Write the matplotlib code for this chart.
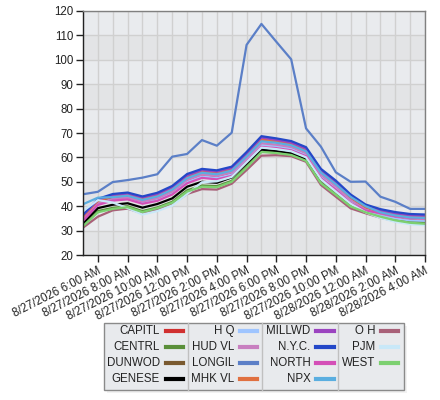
import matplotlib
matplotlib.use("Agg")
import matplotlib.pyplot as plt
import matplotlib.dates as mdates
from matplotlib.patches import Rectangle
from matplotlib.lines import Line2D
import pandas as pd

plt.rcParams['font.family'] = ['Liberation Sans', 'DejaVu Sans']

# hourly timestamps, 8/27/2026 5 AM .. 8/28/2026 4 AM
hours = pd.date_range("2026-08-27 05:00", periods=24, freq="h")

zones = ["CAPITL", "CENTRL", "DUNWOD", "GENESE", "H Q", "HUD VL", "LONGIL", "MHK VL",
         "MILLWD", "N.Y.C.", "NORTH", "NPX", "O H", "PJM", "WEST"]
colors = ["#d03030", "#5a8f3a", "#7a5a30", "#000000", "#9fc5ff", "#c87fc0", "#5b7fc7", "#e07040",
          "#9b44c0", "#2448c8", "#d44fb7", "#5aaee0", "#a86078", "#c8e8f8", "#7cd070"]

capitl = [34.8, 41.5, 43.2, 43.8, 42.0, 43.2, 45.8, 50.5, 52.7, 52.1, 53.5, 59.3,
          65.5, 64.9, 64.0, 61.5, 52.6, 47.9, 42.3, 38.6, 36.7, 35.5, 34.7, 34.5]
centrl = [32.0, 38.0, 39.3, 40.0, 38.0, 39.5, 41.8, 46.5, 48.5, 48.2, 50.4, 56.3,
          62.4, 62.0, 61.3, 58.8, 49.8, 45.2, 40.4, 37.8, 36.1, 34.6, 33.6, 33.3]
dunwod = [35.5, 41.8, 43.6, 44.2, 42.6, 44.0, 46.8, 51.6, 53.8, 53.2, 54.7, 60.6,
          67.0, 66.3, 65.3, 62.7, 53.9, 49.1, 43.3, 39.3, 37.4, 36.2, 35.4, 35.2]
genese = [33.0, 39.2, 40.6, 41.2, 39.4, 40.9, 43.2, 48.0, 50.0, 49.6, 51.8, 57.5,
          63.2, 62.6, 61.8, 59.3, 51.0, 46.4, 41.6, 38.7, 37.0, 35.5, 34.5, 34.2]
h_q = [34.5, 40.8, 42.5, 43.0, 41.3, 42.6, 45.3, 50.0, 52.2, 51.6, 53.0, 58.9,
       65.3, 64.6, 63.6, 61.0, 52.0, 47.3, 41.8, 38.2, 36.3, 35.0, 34.2, 34.0]
hud_vl = [35.0, 41.2, 43.0, 43.6, 42.0, 43.3, 46.0, 50.8, 53.0, 52.4, 53.9, 59.7,
          65.8, 65.2, 64.3, 61.8, 53.0, 48.2, 42.6, 38.8, 36.9, 35.7, 34.9, 34.7]
longil = [44.9, 45.9, 49.9, 50.7, 51.7, 53.1, 60.3, 61.4, 67.1, 64.8, 70.1, 106.1,
          114.7, 107.4, 100.2, 71.9, 64.4, 53.9, 50.0, 50.1, 43.9, 41.8, 38.9, 38.9]
mhk_vl = [35.8, 42.2, 44.0, 44.6, 43.0, 44.4, 47.2, 52.0, 54.2, 53.6, 55.1, 61.0,
          67.3, 66.6, 65.6, 63.0, 54.2, 49.4, 43.6, 39.6, 37.7, 36.5, 35.7, 35.5]
millwd = [36.2, 42.6, 44.6, 45.2, 43.6, 45.0, 47.8, 52.6, 54.8, 54.2, 55.7, 61.6,
          68.1, 67.2, 66.1, 63.6, 54.8, 50.0, 44.3, 40.2, 38.3, 37.1, 36.3, 36.1]
nyc = [36.5, 43.0, 45.0, 45.6, 44.0, 45.5, 48.3, 53.2, 55.3, 54.7, 56.2, 62.2,
       68.7, 67.8, 66.7, 64.2, 55.3, 50.5, 44.8, 40.7, 38.8, 37.6, 36.8, 36.6]
north = [34.0, 40.5, 42.3, 42.8, 41.0, 42.2, 44.8, 49.4, 51.6, 51.0, 52.4, 58.3,
         64.3, 63.8, 62.9, 60.5, 51.5, 46.8, 41.3, 38.2, 37.2, 35.9, 35.3, 35.1]
npx = [40.8, 43.5, 43.7, 44.3, 42.6, 44.0, 46.8, 51.5, 53.7, 53.1, 54.6, 60.4,
       66.6, 66.0, 65.0, 62.5, 53.8, 49.0, 43.8, 40.0, 37.5, 36.2, 35.4, 35.2]
o_h = [31.2, 35.7, 38.3, 39.0, 37.1, 38.7, 40.9, 45.0, 47.0, 46.8, 49.2, 54.8,
       60.7, 60.9, 60.5, 58.2, 48.7, 43.9, 39.1, 37.1, 35.3, 33.9, 33.0, 32.6]
pjm = [38.0, 42.5, 41.5, 39.2, 36.6, 38.0, 40.3, 45.0, 49.8, 50.2, 52.0, 58.0,
       64.0, 63.4, 62.5, 60.0, 51.0, 46.0, 41.0, 37.5, 35.2, 33.6, 32.6, 32.2]
west = [31.8, 37.5, 38.9, 39.6, 37.6, 39.2, 41.4, 46.0, 48.0, 47.8, 50.0, 55.8,
        62.2, 61.8, 61.0, 58.6, 49.4, 44.7, 39.9, 37.5, 35.7, 34.2, 33.2, 32.8]

series = [capitl, centrl, dunwod, genese, h_q, hud_vl, longil, mhk_vl,
          millwd, nyc, north, npx, o_h, pjm, west]

W, H = 440, 400
fig = plt.figure(figsize=(W / 100, H / 100), dpi=100)
fig.patch.set_facecolor("white")
ax = fig.add_axes([83 / W, 1 - 255 / H, (425 - 83) / W, (255 - 11) / H])

# alternating horizontal bands
for lo in range(20, 120, 10):
    c = "#e3e4e6" if (lo // 10) % 2 == 0 else "#e9ebee"
    ax.axhspan(lo, lo + 10, color=c, zorder=0.1, lw=0)

for name, col, vals in zip(zones, colors, series):
    ax.plot(hours, vals, color=col, lw=1.6, label=name, zorder=2)

ax.set_ylim(20, 120)
ax.set_yticks(range(20, 121, 10))
ax.set_xlim(hours[0], hours[-1])
ax.xaxis.set_major_locator(mdates.HourLocator(byhour=range(0, 24, 2)))
ax.xaxis.set_minor_locator(mdates.HourLocator())


def fmt(x, pos=None):
    d = mdates.num2date(x)
    h = d.hour % 12 or 12
    ampm = "AM" if d.hour < 12 else "PM"
    return f"{d.month}/{d.day}/{d.year} {h}:00 {ampm}"


ax.xaxis.set_major_formatter(plt.FuncFormatter(fmt))
ax.set_axisbelow(True)
ax.grid(True, which="both", axis="x", color="#d0d0d0", lw=1)
ax.grid(True, which="major", axis="y", color="#d0d0d0", lw=1)
ax.tick_params(axis="x", which="minor", length=0)
ax.tick_params(axis="both", which="major", length=5, width=1, color="#222222",
               labelsize=8.3, labelcolor="#222222", pad=2)
for lab in ax.get_xticklabels():
    lab.set_rotation(27)
    lab.set_ha("right")
    lab.set_va("top")
    lab.set_rotation_mode("anchor")
for s in ax.spines.values():
    s.set_color("#808080")
    s.set_linewidth(1)
ax.spines["left"].set_color("#222222")
ax.spines["bottom"].set_color("#222222")

# legend box drawn by hand: 4 columns, label then line sample
lx0, lx1, ly0, ly1 = 104, 404, 322.7, 390
fig.patches.append(Rectangle((lx0 / W + 0.006, 1 - ly1 / H - 0.008), (lx1 - lx0) / W, (ly1 - ly0) / H,
                             transform=fig.transFigure, facecolor="#f2f2f2", edgecolor="none", zorder=0))
fig.patches.append(Rectangle((lx0 / W, 1 - ly1 / H), (lx1 - lx0) / W, (ly1 - ly0) / H,
                             transform=fig.transFigure, facecolor="#e8eaed", edgecolor="#8a8a8a",
                             lw=1, zorder=1))
for sx in [188.3, 262.3, 338.3]:
    fig.lines.append(Line2D([sx / W, sx / W], [1 - ly1 / H, 1 - ly0 / H], transform=fig.transFigure,
                            color="#c0c0c0", lw=1, zorder=2))
col_right = [160, 234, 310.7, 375.3]
row_y = [331.3, 347.2, 363.1, 379.0]
for i, (name, col) in enumerate(zip(zones, colors)):
    c, r = divmod(i, 4)
    xr = col_right[c]
    yy = 1 - row_y[r] / H
    fig.text(xr / W, yy, name, ha="right", va="center", fontsize=8.3, color="#222222", zorder=3)
    fig.lines.append(Line2D([(xr + 5.5) / W, (xr + 23) / W], [yy, yy], transform=fig.transFigure,
                            color=col, lw=3, zorder=3))

fig.savefig("out.png", dpi=100)
